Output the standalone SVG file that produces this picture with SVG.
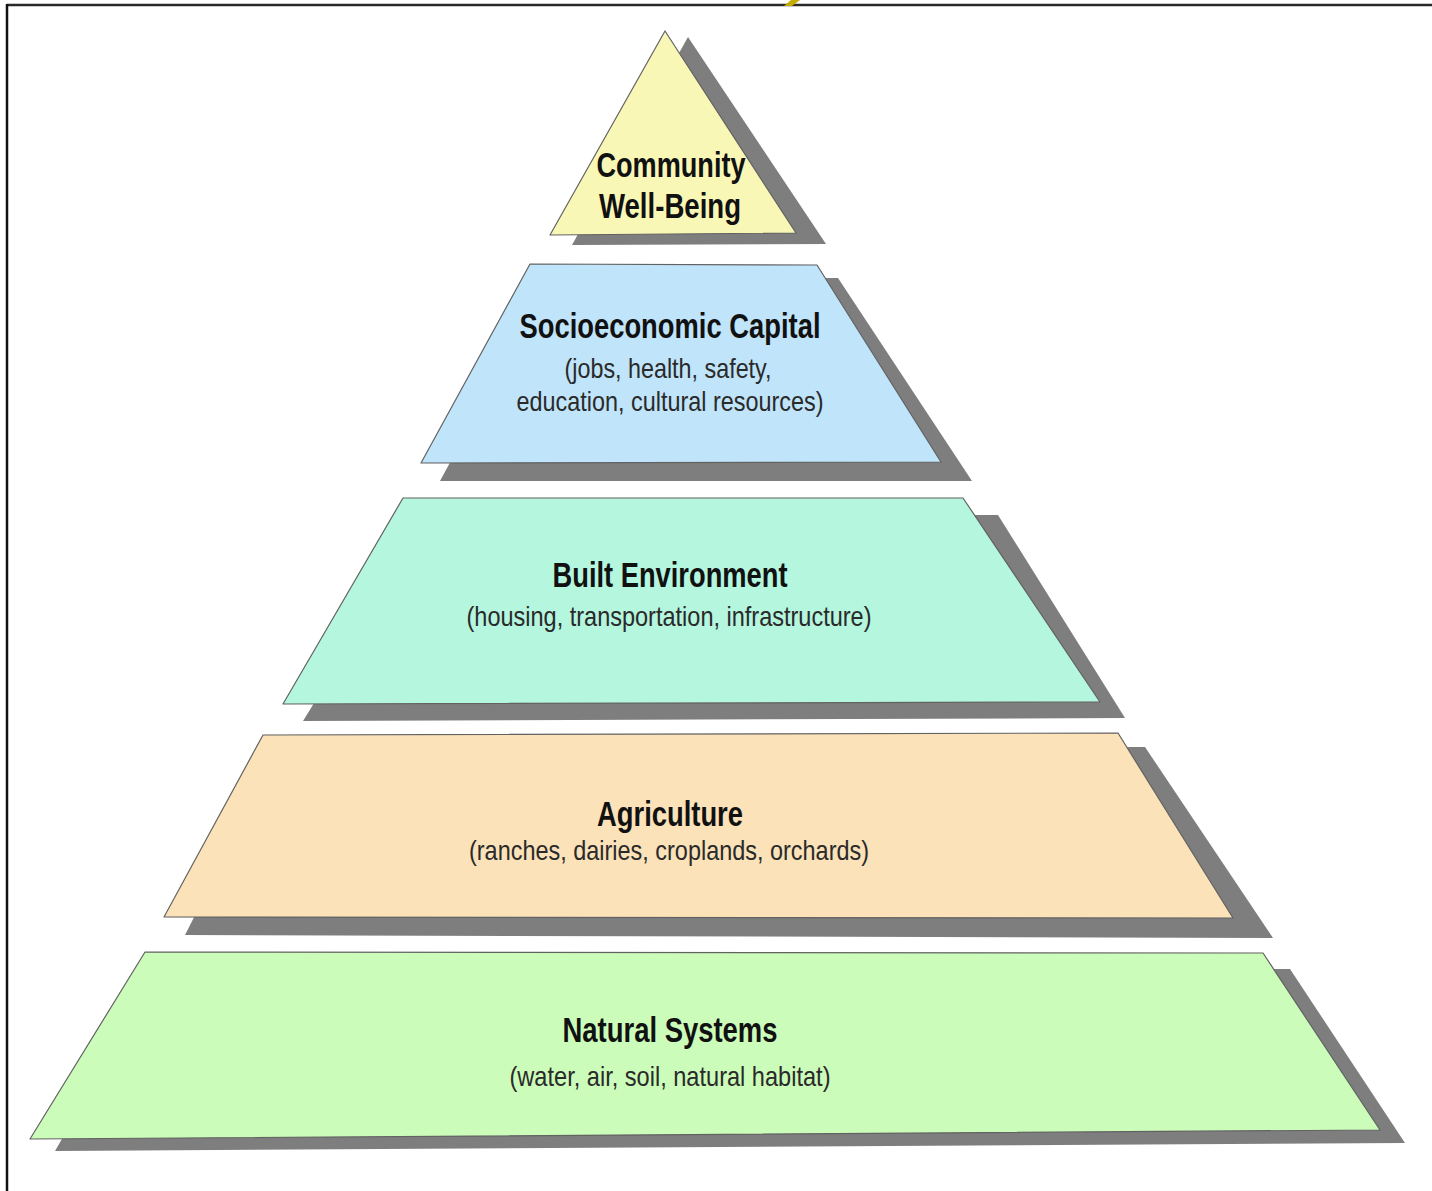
<svg xmlns="http://www.w3.org/2000/svg" width="1432" height="1191" viewBox="0 0 1432 1191">
<style>
.shadow{fill:#7e7e7e;stroke:none}
.tier{stroke:#626262;stroke-width:1.2;stroke-linejoin:round}
.title{font-family:"Liberation Sans Narrow","Liberation Sans",Arial,sans-serif;font-weight:bold;font-size:35px;fill:#111;text-anchor:middle}
.sub{font-family:"Liberation Sans Narrow","Liberation Sans",Arial,sans-serif;font-size:28px;fill:#2a2a2a;text-anchor:middle}
</style>
<rect width="1432" height="1191" fill="#ffffff"/>
<line x1="7" y1="5" x2="1432" y2="5" stroke="#2a2a2a" stroke-width="2.5"/>
<line x1="7" y1="4" x2="7" y2="1191" stroke="#111" stroke-width="2.5"/>
<polygon points="791,0 800,0 792,6 784,6" fill="#c4ac00"/>

<g id="natural-systems">
<polygon class="shadow" points="160,969 1290,969 1405,1143 55,1151"/>
<polygon class="tier" fill="#ccfcb9" points="145,952 1263,953 1380,1130 30,1139"/>
<text class="title" x="670" y="1042" textLength="215" lengthAdjust="spacingAndGlyphs">Natural Systems</text>
<text class="sub" x="670" y="1086" textLength="321" lengthAdjust="spacingAndGlyphs">(water, air, soil, natural habitat)</text>
</g>

<g id="agriculture">
<polygon class="shadow" points="280,748 1145,747 1273,938 185,935"/>
<polygon class="tier" fill="#fbe2b9" points="263,735 1118,733 1233,918 164,917"/>
<text class="title" x="670" y="826" textLength="146" lengthAdjust="spacingAndGlyphs">Agriculture</text>
<text class="sub" x="669" y="860" textLength="400" lengthAdjust="spacingAndGlyphs">(ranches, dairies, croplands, orchards)</text>
</g>

<g id="built-environment">
<polygon class="shadow" points="430,515 998,515 1125,718 303,721"/>
<polygon class="tier" fill="#b5f6df" points="403,498 963,498 1100,702 283,704"/>
<text class="title" x="670" y="587" textLength="235" lengthAdjust="spacingAndGlyphs">Built Environment</text>
<text class="sub" x="669" y="626" textLength="405" lengthAdjust="spacingAndGlyphs">(housing, transportation, infrastructure)</text>
</g>

<g id="socioeconomic-capital">
<polygon class="shadow" points="550,278 838,278 972,481 440,481"/>
<polygon class="tier" fill="#c0e4fa" points="530,264 817,265 941,462 421,463"/>
<text class="title" x="670" y="338" textLength="301" lengthAdjust="spacingAndGlyphs">Socioeconomic Capital</text>
<text class="sub" x="668" y="378" textLength="207" lengthAdjust="spacingAndGlyphs">(jobs, health, safety,</text>
<text class="sub" x="670" y="411" textLength="307" lengthAdjust="spacingAndGlyphs">education, cultural resources)</text>
</g>

<g id="community-well-being">
<polygon class="shadow" points="688,37 826,244 572,245"/>
<polygon class="tier" fill="#f9f7b6" points="665,31 796,233 550,235"/>
<text class="title" x="671" y="177" textLength="149" lengthAdjust="spacingAndGlyphs">Community</text>
<text class="title" x="670" y="218" textLength="142" lengthAdjust="spacingAndGlyphs">Well-Being</text>
</g>

<g id="connectors"></g>
</svg>
